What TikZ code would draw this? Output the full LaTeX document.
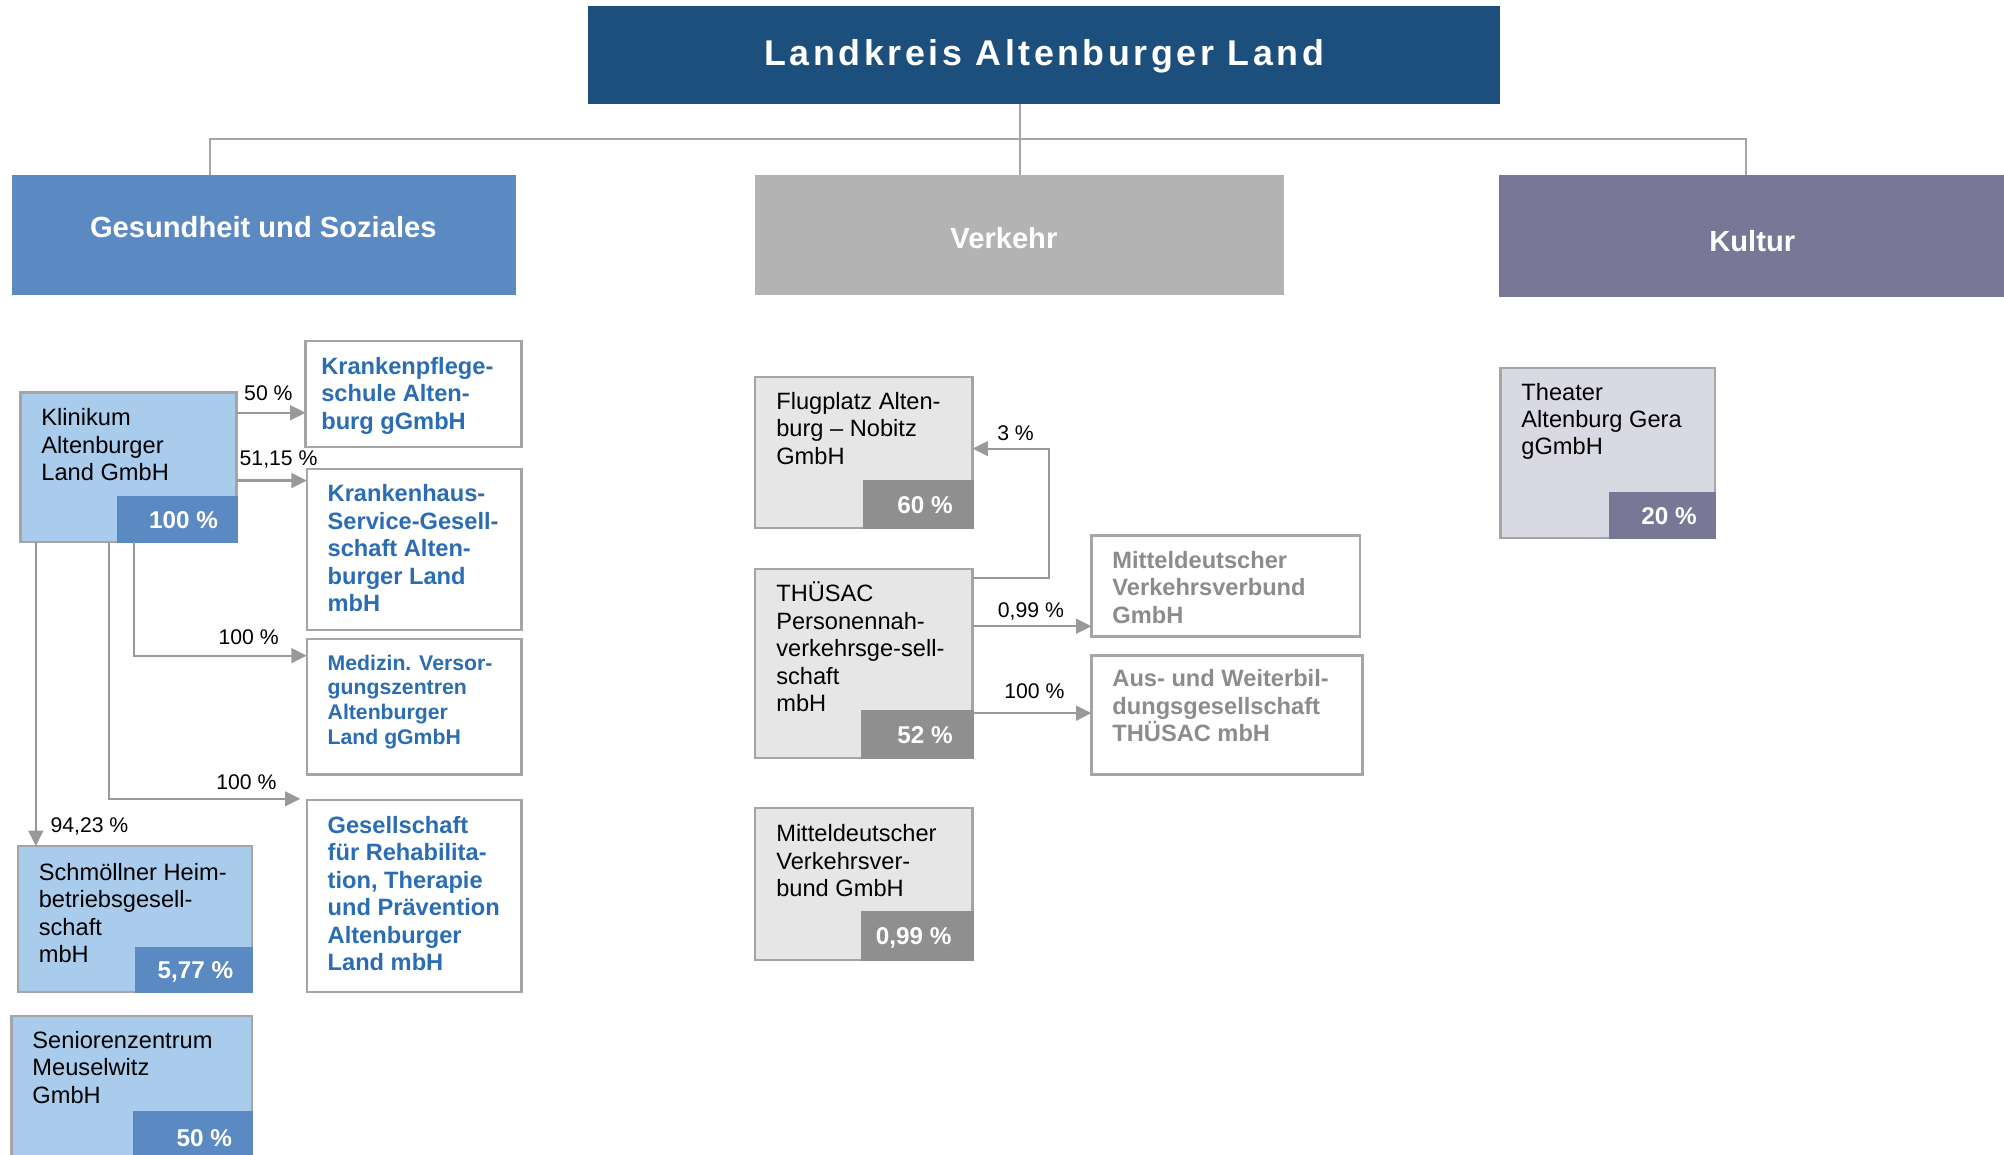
\documentclass[tikz,border=0pt]{standalone}
\usepackage{fontspec}
\setmainfont{Liberation Sans}
\newfontfamily\titlefam[LetterSpace=10]{Liberation Sans}
\usetikzlibrary{arrows.meta}
\definecolor{titleblue}{HTML}{1D4F7D}
\definecolor{catblue}{HTML}{5B89C1}
\definecolor{catgray}{HTML}{B3B3B3}
\definecolor{catpurple}{HTML}{787896}
\definecolor{lightblue}{HTML}{A9CCEC}
\definecolor{lightgray}{HTML}{E6E6E6}
\definecolor{midgray}{HTML}{8F8F8F}
\definecolor{theaterfill}{HTML}{D9D9E3}
\definecolor{bordergray}{HTML}{A5A5A5}
\definecolor{arrowgray}{HTML}{999999}
\definecolor{treegray}{HTML}{A6A6A6}
\definecolor{textblue}{HTML}{2B6DB3}
\definecolor{textgray}{HTML}{8C8C8C}
\newcommand{\fBody}{\fontsize{9.25pt}{10.75pt}\selectfont}
\newcommand{\fSmall}{\fontsize{8.3pt}{9.7pt}\selectfont}
\newcommand{\fLab}{\fontsize{8.3pt}{10pt}\selectfont}
\newcommand{\fPct}{\fontsize{9.5pt}{11pt}\selectfont\bfseries}
\newcommand{\fCat}{\fontsize{11.4pt}{13pt}\selectfont\bfseries}
\newcommand{\fTitle}{\titlefam\fontsize{14pt}{16pt}\selectfont\bfseries}
\newcommand{\mytxt}[1]{\parbox[t]{150pt}{\raggedright #1}}
\tikzset{
  sz/.style 2 args={minimum width=#1*0.5pt, minimum height=#2*0.5pt},
  plain/.style={inner sep=0pt, outer sep=0pt, anchor=north west},
  box/.style={plain, draw=bordergray, line width=0.9pt},
  pctbox/.style={inner sep=0pt, outer sep=0pt, anchor=south east, fill=#1},
  pcttext/.style={inner sep=0pt, anchor=east, text=white, font=\fPct, text height=6.8pt, text depth=0pt},
  bodytext/.style={inner sep=0pt, anchor=base west, font=\fBody},
  bluetext/.style={inner sep=0pt, anchor=base west, font=\fBody\bfseries, text=textblue},
  smallblue/.style={inner sep=0pt, anchor=base west, font=\fSmall\bfseries, text=textblue},
  graytext/.style={inner sep=0pt, anchor=base west, font=\fBody\bfseries, text=textgray},
  cattext/.style={inner sep=0pt, anchor=base, font=\fCat, text=white},
  lab/.style={inner sep=0pt, anchor=base, font=\fLab},
  arr/.style={draw=arrowgray, line width=0.85pt, -{Triangle[length=6pt,width=5.75pt]}},
  tree/.style={draw=treegray, line width=0.75pt},
}
\begin{document}
\begin{tikzpicture}[x=0.5pt, y=-0.5pt]
\path[use as bounding box] (0,0) rectangle (1568,903.7);
\clip (0,0) rectangle (1568,903.7);

% title
\node[plain, fill=titleblue, sz={714}{76}] (title) at (460,5) {};
\node[inner sep=0pt, anchor=base, font=\fTitle, text=white] (titlet) at (817,51) {Landkreis Altenburger Land};

% categories
\node[plain, fill=catblue, sz={395}{94}] (ges) at (9,137) {};
\node[cattext] (gest) at (206,185.7) {Gesundheit und Soziales};
\node[plain, fill=catgray, sz={414}{94}] (ver) at (591,137) {};
\node[cattext] (vert) at (785.5,194.3) {Verkehr};
\node[plain, fill=catpurple, sz={400}{95}] (kul) at (1173,137) {};
\node[cattext] (kult) at (1371,197) {Kultur};

% tree connectors
\draw[tree] ([xshift=77.5pt]ges.north west) -- ++(0,14pt) -| ([xshift=96.5pt]kul.north west);
\draw[tree] (title.south -| ver.north) -- (ver.north);

% Gesundheit column
\node[box, fill=lightblue, sz={169}{117}] (klin) at (16,307) {};
\node[bodytext] (klint) at (32,333) {\mytxt{Klinikum\\Altenburger\\Land GmbH}};
\node[pctbox=catblue, sz={94}{37}] (klinp) at ([shift={(0.45pt,-0.45pt)}]klin.south east) {};
\node[pcttext] (klinpt) at ([xshift=-7.5pt]klinp.east) {100 \%};

\node[box, fill=white, sz={169}{83}] (kps) at (239,267) {};
\node[bluetext] (kpst) at (251,293) {\mytxt{Krankenpflege-\\schule Alten-\\burg gGmbH}};

\node[box, fill=white, sz={168}{126}] (khs) at (240,367) {};
\node[bluetext] (khst) at (256,392.5) {\mytxt{Krankenhaus-\\Service-Gesell-\\schaft Alten-\\burger Land\\mbH}};

\node[box, fill=white, sz={168}{106}] (mvz) at (240,500) {};
\node[smallblue] (mvzt) at (256,524.3) {\mytxt{Medizin. Versor-\\gungszentren\\Altenburger\\Land gGmbH}};

\node[box, fill=white, sz={168}{150}] (gfr) at (240,626) {};
\node[bluetext] (gfrt) at (256,652) {\mytxt{Gesellschaft\\für Rehabilita-\\tion, Therapie\\und Prävention\\Altenburger\\Land mbH}};

\node[box, fill=lightblue, sz={183}{114}] (schm) at (14,662) {};
\node[bodytext] (schmt) at (30,688.6) {\mytxt{Schmöllner Heim-\\betriebsgesell-\\schaft\\mbH}};
\node[pctbox=catblue, sz={92}{36}] (schmp) at ([shift={(0.45pt,-0.45pt)}]schm.south east) {};
\node[pcttext] (schmpt) at ([xshift=-7.5pt]schmp.east) {5,77 \%};

\node[box, fill=lightblue, sz={188}{120}] (sen) at (9,795) {};
\node[bodytext] (sent) at (25,820.3) {\mytxt{Seniorenzentrum\\Meuselwitz\\GmbH}};
\node[pctbox=catblue, sz={94}{47}] (senp) at ([shift={(0.45pt,-0.45pt)}]sen.south east) {};
\node[pcttext] (senpt) at ([shift={(-8pt,1pt)}]senp.east) {50 \%};

% Gesundheit arrows
\draw[arr] ([yshift=-8pt]klin.north east) -- ([yshift=-8pt]klin.north east -| kps.west);
\draw[arr] ([yshift=-34.5pt]klin.north east) -- ([yshift=-34.5pt]klin.north east -| khs.west);
\draw[arr] ([xshift=44.5pt]klin.south west) |- ([yshift=-6.5pt]mvz.north west);
\draw[arr] ([xshift=34.5pt]klin.south west) |- ([shift={(-2.5pt,0.5pt)}]gfr.north west);
\draw[arr] ([xshift=6pt]klin.south west) -- ([xshift=6pt]klin.south west |- schm.north);
\node[lab] (l1) at (210,313) {50 \%};
\node[lab] (l2) at (218,363.9) {51,15 \%};
\node[lab] (l3) at (194.5,504) {100 \%};
\node[lab] (l4) at (192.8,617.6) {100 \%};
\node[lab] (l5) at (70,651) {94,23 \%};

% Verkehr column
\node[box, fill=lightgray, sz={170}{118}] (flug) at (591,295) {};
\node[bodytext] (flugt) at (607,320.3) {\mytxt{Flugplatz Alten-\\burg – Nobitz\\GmbH}};
\node[pctbox=midgray, sz={87}{38}] (flugp) at ([shift={(0.45pt,-0.45pt)}]flug.south east) {};
\node[pcttext] (flugpt) at ([xshift=-8pt]flugp.east) {60 \%};

\node[box, fill=lightgray, sz={170}{148}] (thu) at (591,445) {};
\node[bodytext] (thut) at (607,470.8) {\mytxt{THÜSAC\\Personennah-\\verkehrsge-sell-\\schaft\\mbH}};
\node[pctbox=midgray, sz={88}{38}] (thup) at ([shift={(0.45pt,-0.45pt)}]thu.south east) {};
\node[pcttext] (thupt) at ([xshift=-8pt]thup.east) {52 \%};

\node[box, fill=lightgray, sz={170}{119}] (mdv) at (591,632) {};
\node[bodytext] (mdvt) at (607,658.6) {\mytxt{Mitteldeutscher\\Verkehrsver-\\bund GmbH}};
\node[pctbox=midgray, sz={88}{39}] (mdvp) at ([shift={(0.45pt,-0.45pt)}]mdv.south east) {};
\node[pcttext] (mdvpt) at ([xshift=-8.5pt]mdvp.east) {0,99 \%};

\node[box, fill=white, sz={210}{79}] (mvv) at (854,419) {};
\node[graytext] (mvvt) at (870,444.7) {\mytxt{Mitteldeutscher\\Verkehrsverbund\\GmbH}};

\node[box, fill=white, sz={212}{93}] (aus) at (854,513) {};
\node[graytext] (aust) at (870,537.3) {\mytxt{Aus- und Weiterbil-\\dungsgesellschaft\\THÜSAC mbH}};

% Verkehr arrows
\draw[arr] ([yshift=-3.5pt]thu.north east) -- ++(30pt,0) |- ([yshift=-28pt]flug.north east);
\draw[arr] ([yshift=-22.5pt]thu.north east) -- ([yshift=-22.5pt]thu.north east -| mvv.west);
\draw[arr] ([yshift=-56.5pt]thu.north east) -- ([yshift=-56.5pt]thu.north east -| aus.west);
\node[lab] (l6) at (794.6,344.8) {3 \%};
\node[lab] (l7) at (806.6,483) {0,99 \%};
\node[lab] (l8) at (809.3,546.4) {100 \%};

% Kultur column
\node[box, fill=theaterfill, sz={168}{133}] (the) at (1174,288) {};
\node[bodytext] (thet) at (1190,313) {\mytxt{Theater\\Altenburg Gera\\gGmbH}};
\node[pctbox=catpurple, sz={84}{37}] (thep) at ([shift={(0.45pt,-0.45pt)}]the.south east) {};
\node[pcttext] (thept) at ([xshift=-7.5pt]thep.east) {20 \%};
\end{tikzpicture}
\end{document}
